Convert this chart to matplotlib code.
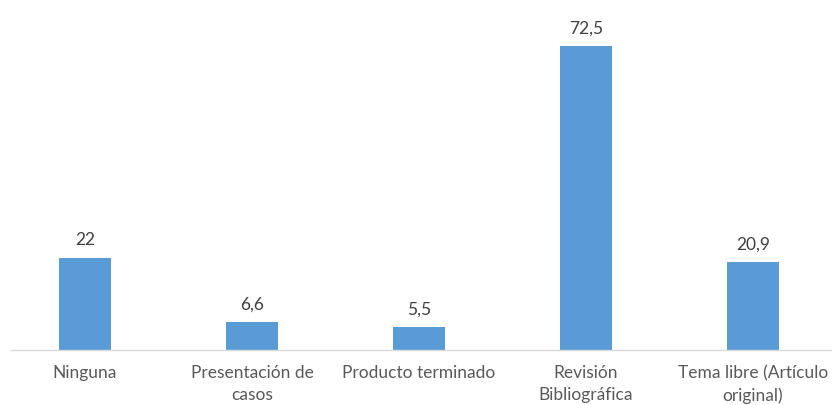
import matplotlib.pyplot as plt

categorias = ["Ninguna", "Presentación de\ncasos", "Producto terminado",
              "Revisión\nBibliográfica", "Tema libre (Artículo\noriginal)"]
valores = [22, 6.6, 5.5, 72.5, 20.9]
etiquetas = ["22", "6,6", "5,5", "72,5", "20,9"]

plt.rcParams['font.family'] = ['Lato', 'DejaVu Sans']

fig = plt.figure(figsize=(8.32, 4.05), dpi=100)
ax = fig.add_axes([11/832, 55/405, 1 - 11/832, 350/405])

x = range(len(valores))
bars = ax.bar(x, valores, width=0.31, color="#5B9BD5")
ax.set_xlim(-0.443, 4.473)
ax.set_ylim(0, 83.5)

for b, t in zip(bars, etiquetas):
    ax.annotate(t, (b.get_x() + b.get_width()/2, b.get_height()),
                xytext=(0, 7), textcoords="offset points",
                ha="center", va="bottom", fontsize=12.5, color="#404040")

ax.set_xticks(list(x))
ax.set_xticklabels(categorias, fontsize=12.5, color="#595959", linespacing=1.45, va="top")
ax.tick_params(axis="x", length=0, pad=11)
ax.set_yticks([])
for s in ["top", "left", "right"]:
    ax.spines[s].set_visible(False)
ax.spines["bottom"].set_color("#D9D9D9")
ax.spines["bottom"].set_linewidth(1)

fig.savefig("out.png", dpi=100)
